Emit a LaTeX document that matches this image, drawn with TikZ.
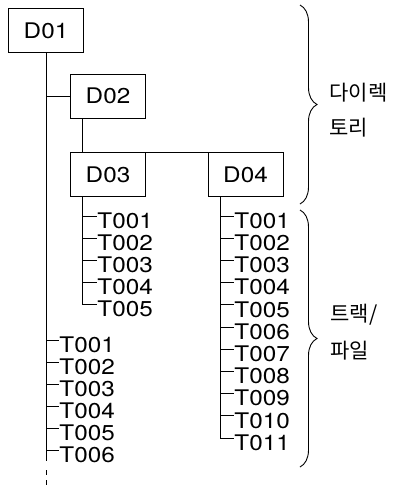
\documentclass[tikz,border=0pt]{standalone}
\usepackage{fontspec}
\setmainfont{TeX Gyre Heros}[FakeStretch=1.13]
\newfontfamily\krfont{Noto Sans CJK KR}
\usetikzlibrary{decorations.pathreplacing,calc}
\begin{document}
\begin{tikzpicture}[x=1pt,y=-1pt,line width=0.9pt,
  dbox/.style={draw, minimum width=75pt, minimum height=44pt, inner sep=0pt,
    font=\fontsize{21.5}{21.5}\selectfont},
  tlabel/.style={anchor=west, inner sep=0pt, text height=24.5pt, text depth=0pt,
    font=\fontsize{21.5}{21.5}\selectfont},
  klabel/.style={anchor=west, inner sep=0pt, font=\krfont\fontsize{21}{21}\selectfont},
  br/.style={decorate, decoration={brace, amplitude=17pt}}]
\useasboundingbox (0,0) rectangle (398,491);

% directory boxes
\node[dbox] (d01) at (46,30.5) {D01};
\node[dbox] (d02) at (108,96) {D02};
\node[dbox] (d03) at (108,174.5) {D03};
\node[dbox] (d04) at (245.5,174.5) {D04};

% D01 trunk
\coordinate (d01end) at (46,461);
\coordinate (d01d1) at (46,470);
\coordinate (d01d2) at (46,487);
\draw (d01.south) -- (d01end);
\draw[dash pattern=on 5pt off 5pt] (d01d1) -- (d01d2);
\draw (d01.south |- d02.west) -- (d02.west);

% D02 to D03 / D04
\coordinate (d02t) at ($(d02.south west)+(12,0)$);
\coordinate (d03t) at ($(d03.north west)+(12,0)$);
\draw (d02t) -- (d03t) -- (d04.north west);

% D03 tracks
\coordinate (c3) at ($(d03.south west)+(12,0)$);
\foreach \i/\t in {0/T001,1/T002,2/T003,3/T004,4/T005}{
  \node[tlabel] (d3t\i) at (97,216+22*\i) {\t};
}
\draw (c3) |- (d3t4.west);
\foreach \i in {0,1,2,3}{ \draw (c3 |- d3t\i.west) -- (d3t\i.west); }

% D01 tracks
\foreach \i/\t in {0/T001,1/T002,2/T003,3/T004,4/T005,5/T006}{
  \node[tlabel] (d1t\i) at (59,340+22*\i) {\t};
  \draw (d01.south |- d1t\i.west) -- (d1t\i.west);
}

% D04 tracks
\coordinate (c4) at ($(d04.south west)+(13,0)$);
\foreach \i/\t in {0/T001,1/T002,2/T003,3/T004,4/T005,5/T006,6/T007,7/T008,8/T009,9/T010,10/T011}{
  \node[tlabel] (d4t\i) at (234,216+22.2*\i) {\t};
}
\draw (c4) |- (d4t10.west);
\foreach \i in {0,...,9}{ \draw (c4 |- d4t\i.west) -- (d4t\i.west); }

% braces
\coordinate (b1a) at (300,5);
\coordinate (b1b) at (300,204);
\coordinate (b2a) at (300,210);
\coordinate (b2b) at (300,467);
\draw[br] (b1a) -- (b1b);
\draw[br] (b2a) -- (b2b);

\node[klabel] (k1) at (329,93) {다이렉};
\node[klabel] (k2) at (329,128) {토리};
\node[klabel] (k3) at (330,315) {트랙/};
\node[klabel] (k4) at (330,351) {파일};
\end{tikzpicture}
\end{document}
